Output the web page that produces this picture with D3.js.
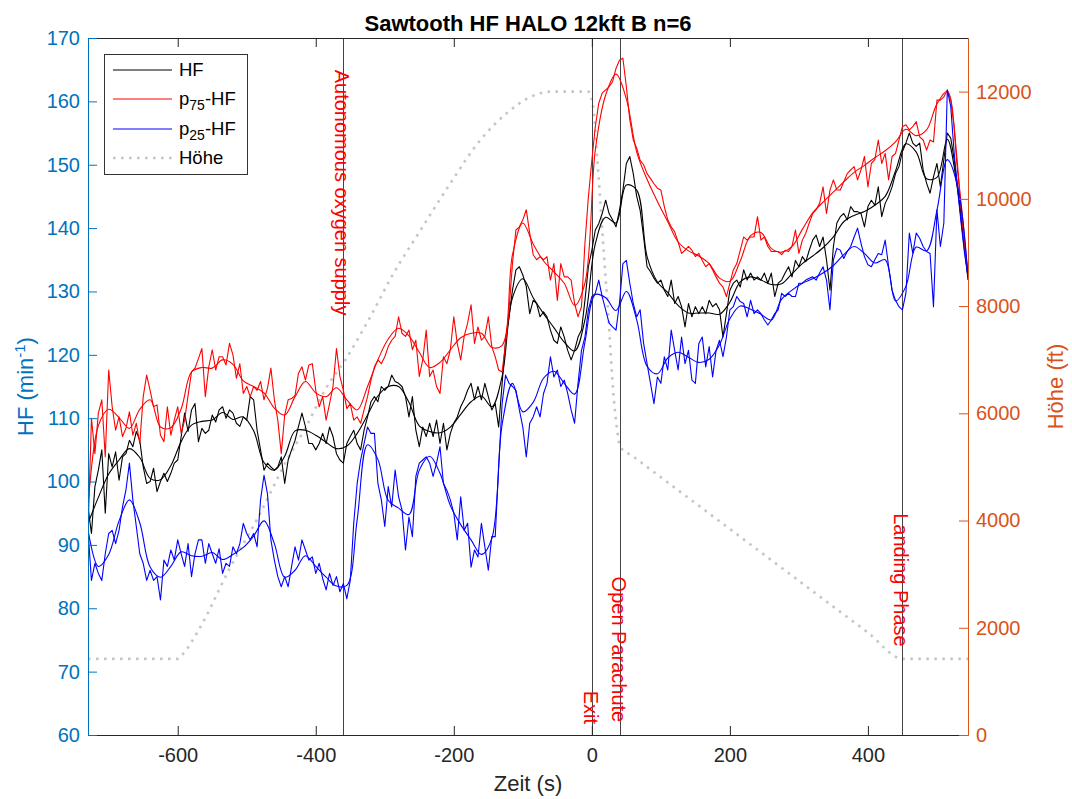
<!DOCTYPE html>
<html>
<head>
<meta charset="utf-8">
<script src="https://cdn.jsdelivr.net/npm/d3@7"></script>
<style>
  html, body { margin: 0; padding: 0; background: #fff; }
  svg { display: block; font-family: "Liberation Sans", Arial, Helvetica, sans-serif; }
</style>
</head>
<body>
<svg id="chart" width="1072" height="799"></svg>
<script>
// ---- Zeitbasis (s), Rohwerte alle 5 s, geglättete Kurven alle 15 s ----
const zeitRoh = d3.range(-730, 546, 5);
const zeitGlatt = d3.range(-730, 546, 15);

// Herzfrequenz-Median (HF), Rohwerte
const hfRoh = [
  96, 91.8, 99.2, 101.8, 105, 95, 104.4, 102.3, 104.7, 100.2, 103.9, 104.4, 106.5, 105.5, 107.9, 106.5,
  102.3, 99.7, 100, 102.1, 98.4, 100, 101.3, 100, 101.3, 102.9, 103.4, 107.1, 110.8, 107.9, 111.3, 112.3,
  106.3, 108.4, 107.6, 108.1, 110.5, 109.4, 111.3, 111.8, 110, 111.3, 110.8, 109.2, 108.7, 110.2, 109.7,
  113.4, 112.9, 108.1, 105, 101.8, 102.9, 102.3, 101.8, 102.3, 103.9, 99.7, 103.4, 105, 106.5, 108.7,
  110.8, 108.7, 106,
  106, 105, 106, 107.6, 106, 108.6, 107.1, 104.4, 103.4, 102.9, 106, 107.1, 108.1, 106, 105, 108.1,
  110.2, 112.6, 113.4, 112.6, 115, 114.4, 115, 116.8, 115.8, 115.5, 115, 113.4, 110.2, 113.4, 108.1,
  105.5, 108.6, 107.1, 109.2, 107.1, 109.7, 106, 109.2, 105, 107.6, 109.2, 110.2, 111.8, 112.9, 114.4,
  115.5, 112.9, 115, 112.9, 115.5, 113.4, 111.3, 112.3, 108.6, 115.5, 122.3, 126, 130.2, 133.4, 133.9,
  132.6, 130.8, 126.5,
  128.6, 128.1, 126, 126.8, 126, 123.9, 122.3, 121.8, 124.4, 122.8, 120.7, 119.2, 120.7, 122.8, 123.9,
  128.6, 133.9, 136.5, 139.7, 140.7, 142.3, 144.4, 142.3, 141.3, 140.2, 142.8, 146, 150.2, 151.3, 148.6,
  145, 142.8, 138.6, 133.9, 133.1, 132.1, 131.3, 131.8, 130.2, 129.2, 131.8, 128.1, 129.2, 127.6, 124.4,
  128.1, 126, 127.6, 126.5, 127.6, 126.5, 128.6, 127.6, 128.1, 127.1, 122.8, 126.5, 130.2, 131.3, 131.8,
  130.7, 133.4, 131.8,
  132.9, 131.8, 132.3, 131.8, 132.9, 131.3, 132.9, 129.2, 131.3, 131.8, 132.9, 133.9, 132.3, 134.9,
  133.9, 135.5, 134.7, 136.5, 138.1, 138.9, 137.1, 138.6, 135, 130.2, 137.1, 140.8, 141.8, 142.3, 141.3,
  143.4, 142.6, 142.6, 142.3, 140.2, 143.4, 144.4, 143.6, 146.5, 141.8, 143.9, 145, 146.5, 148.6, 149.7,
  152.1, 153.4, 155, 153.4, 152.9, 153.4, 149.2, 147.1, 145.5, 148.1, 150.2, 146.5, 150.8, 155, 154.2,
  150.8, 146.5, 141.3, 136.5, 132.3
];

// 75. Perzentil, Rohwerte
const p75Roh = [
  91.8, 110, 104.4, 110.8, 112.9, 103.9, 117.6, 111.8, 108.1, 110.2, 107.1, 108.4, 111, 107.3, 109.2, 106,
  113.4, 116.8, 114.4, 111.8, 112.1, 107.3, 106.3, 111.8, 107.3, 109.7, 111.8, 107.6, 109.7, 113.6, 117.3,
  117.9, 119.4, 121, 113.4, 118.1, 120.8, 117.6, 119.7, 119.7, 118.4, 121.8, 120, 116.3, 118.6, 113.9, 115,
  113.4, 115, 114.4, 115.8, 112.9, 114.7, 117.9, 112.9, 109.7, 104.4, 110.5, 112.9, 113.1, 113.6, 117.1,
  118.1, 116, 118.4,
  118.6, 114.4, 111.8, 113.4, 109.7, 112.3, 115, 121, 116.6, 114.4, 111.5, 112.3, 109.7, 110.2, 109.2,
  111.3, 113.4, 116, 118.1, 119.2, 118.6, 119.7, 121.3, 122.3, 122.9, 126, 123.4, 122.9, 123.9, 120.8,
  122.3, 116.6, 119.2, 123.9, 116.6, 117.6, 115, 113.9, 119.7, 118.6, 120.8, 126, 121.8, 119.2, 122.9, 125,
  127.9, 121.8, 124.4, 122.3, 122.9, 126, 121.3, 119.7, 117.6, 117.3, 121.8, 127.1, 134.4, 139.7, 140.2,
  141.3, 142.9, 139.2,
  135.8, 135, 135.5, 135, 135.5, 131.8, 134.4, 128.6, 134.4, 132.3, 132.3, 131.8, 128.1, 126, 127.6,
  137.6, 144.9, 150.7, 156, 159.7, 161.3, 161.8, 162.3, 163.1, 165.2, 166.5, 166.8, 162.3, 157.1, 153.9,
  152.6, 150.7, 150, 148.6, 147.8, 147, 146.3, 146, 143.4, 141.3, 140.2, 139.4, 137.8, 136, 136.5, 137.1,
  136.5, 135.5, 136, 134.9, 133.9, 134.4, 133.4, 132.3, 131.3, 130.7, 129.2, 131.3, 133.4, 134.4, 136.5,
  138.6, 138.1,
  138.6, 138.6, 141.8, 138.1, 138.6, 137.1, 136.3, 136.3, 136.3, 135.8, 136.5, 136.3, 137.1, 139.7, 136,
  138.1, 139.2, 140.8, 142.3, 142.9, 143.9, 146.5, 142.3, 146, 147.6, 146, 146, 147.3, 148.6, 149.2, 149.7,
  147.6, 149.2, 151.3, 146.5, 150.2, 150.8, 153.9, 150.2, 151.8, 147.6, 151.3, 151.8, 153.9, 156, 156.3,
  155.5, 156, 156.8, 154.4, 153.9, 152.3, 153.9, 153.6, 160.2, 160.2, 160.7, 161.8, 160.2, 156, 149.7,
  142.9, 137.1, 132.9
];

// 25. Perzentil, Rohwerte
const p25Roh = [
  92.3, 84.4, 87.1, 85.5, 84.4, 88.6, 91.8, 92.3, 90.2, 92.3, 96, 98.7, 102.9, 97.1, 92.9, 88.6, 87.1,
  84.4, 86, 84.4, 85, 81.3, 87.6, 86.6, 89.2, 87.6, 90.8, 88.6, 86.6, 90.2, 85, 88.6, 90.8, 90.8, 87.1,
  90.2, 88.6, 87.1, 89.4, 85.5, 87.1, 86.6, 89.7, 88.6, 90.2, 93.4, 91.8, 90.8, 91.8, 89.7, 97.1, 101,
  98.1, 90.8, 87.6, 85, 83.4, 85, 83.4, 86.6, 89.7, 87.6, 90.8, 89.2, 87.6,
  88.1, 85.5, 87.1, 84.7, 82.9, 85.5, 83.6, 85, 82.6, 83.9, 81.5, 84.4, 93.4, 99.7, 103.4, 106, 108.6,
  107.6, 107.6, 99.7, 97.1, 92.9, 99.2, 96, 101.8, 97.6, 95.5, 89.2, 94.4, 91.3, 100.8, 102.9, 103.4,
  103.9, 102.9, 100.8, 102.9, 105.5, 99.7, 98.6, 97.1, 95, 90.8, 97.6, 92.3, 93.4, 86.5, 89.2, 88.1, 93.4,
  89.7, 86, 91.3, 91.3, 102.3, 112.3, 116.8, 115.5, 115, 114.4, 111.3, 108.6, 103.9, 109.2,
  110.2, 111.8, 110.2, 113.9, 115.5, 119.7, 116.5, 117.6, 115, 116, 113.9, 111.3, 109.2, 115.5, 120.7,
  122.8, 127.1, 129.2, 129.7, 131.8, 129.2, 127.1, 125, 124.4, 123.9, 128.1, 134.4, 134.9, 131.3, 128.1,
  126, 127.1, 121.8, 118.6, 115.5, 112.3, 116.5, 115.5, 119.7, 117.6, 123.9, 120.7, 117.6, 122.8, 118.6,
  120.7, 116, 115.5, 121.8, 122.8, 118.1, 121.3, 116.5, 120.7, 122.3, 119.7, 122.8, 127.1, 127.6, 129.2,
  128.4, 128.1, 126,
  128.6, 126.5, 127.1, 126.5, 125.5, 124.7, 125.5, 126.5, 127.1, 129.7, 129.2, 129.7, 129.2, 129.2, 131.3,
  131.3, 131.8, 132.1, 132.3, 131.8, 132.9, 133.9, 131.8, 127.1, 135, 136.8, 136.5, 135.2, 136.3, 137.1,
  138.6, 140, 137.6, 135.5, 134.2, 133.9, 135, 136, 135.8, 138.1, 133.9, 130.2, 128.6, 127.6, 127.1, 129.7,
  139.2, 136, 139.2, 138.4, 137.1, 136.3, 136, 127.6, 142.9, 137.1, 140.8, 161.8, 159.2, 151.8, 146,
  140.8, 136, 132.3
];

// Geglättete Verläufe
const hfGlatt = [
  93.4, 97.5, 101.2, 103.4, 105.2, 103.8, 100.5, 100.3, 102.5, 106.3, 108.9, 109.5, 109.7, 110.9, 109.8,
  110.2, 108, 103, 101.8, 104, 108, 108.1, 107.3, 106.2, 105.2, 105.6, 107.6, 110.5, 113.5, 115, 115,
  112.5, 108.8, 107.9, 107.7, 108.6, 110.6, 112.6, 113.5, 111.8, 116.6, 129, 132, 129, 126.5, 124.3, 122,
  120.6, 125.5, 137.5, 141.7, 140.8, 146.8, 146, 135.5, 131.5, 129.8, 127.8, 126.6, 126.6, 126.6, 126.4,
  128.3, 131.5, 132.3, 131.8, 131.1, 131.2, 132.8, 134.4, 135.6, 136.9, 138.6, 141, 142, 142.6, 143.6,
  145, 149, 153.3, 152, 147.8, 148, 154, 146, 131.8
];
const p75Glatt = [
  96, 108.8, 111.4, 110.1, 108.4, 111.4, 112.9, 108.6, 108.5, 111.5, 117.3, 118, 117.9, 119.2, 118.5,
  115.9, 115, 114, 111.6, 110.5, 113.4, 115.8, 114, 113.4, 114.8, 112.9, 111.3, 115, 119.2, 122.5, 124.2,
  123, 120.4, 118, 118.8, 120.8, 122.7, 123.4, 123.4, 121.2, 121.5, 135.8, 140.8, 137.5, 134.8, 133.1,
  131.3, 127.8, 131.3, 152.3, 161, 164.3, 160.4, 152, 147.7, 144.2, 141, 137.8, 136.4, 135.6, 134.4,
  132.1, 131.6, 134.8, 138.8, 139.3, 136.8, 136.2, 137.1, 139.8, 142.4, 144.1, 145.7, 147.3, 148.8,
  149.9, 151.1, 152.2, 153.6, 155.6, 154.6, 155.5, 159.6, 161.6, 149, 132.5
];
const p25Glatt = [
  92.4, 86.6, 88.5, 93.8, 97.1, 93.5, 86.5, 84.9, 86.6, 88.9, 88.3, 88.2, 88.8, 87.7, 88.5, 89.6, 91.4,
  93.8, 90.2, 84.9, 86, 88.3, 86.6, 84.9, 83.5, 83.6, 94, 105.8, 103.5, 97, 95.8, 94.8, 101.8, 104, 101.3,
  96.2, 93.2, 90.8, 88.5, 91, 109, 115.5, 111, 112.5, 116.3, 117.4, 115.5, 113.8, 122, 129.5, 129, 127,
  130, 125.5, 118.2, 117, 119.5, 120.4, 119.6, 118.8, 119.3, 121.6, 125.7, 127.7, 127.2, 126.4, 125.5,
  128.8, 130.2, 131.3, 132, 132.9, 134.1, 135.8, 137.1, 136, 134.5, 135, 128.5, 130.8, 137, 136.4, 142.8,
  150.8, 146.6, 132.3
];

// Höhenprofil (ft)
const hoeheZeit = [-730, -600, -590, -570, -525, -481, -443, -414, -386, -357, -318, -290, -248, -205,
  -162, -123, -89, -60, -5, 3, 7, 12, 17, 24, 31, 36, 41, 60, 109, 180, 254, 330, 400, 451, 460, 545];
const hoehe = [1420, 1420, 1550, 1950, 3100, 4120, 5100, 5750, 6450, 7000, 7870, 8550, 9420, 10290,
  11090, 11600, 11900, 12000, 12000, 11600, 10900, 10000, 9050, 7800, 6400, 5750, 5380, 5195, 4720,
  4035, 3320, 2585, 1910, 1420, 1420, 1420];

// Ereignisse
const ereignisZeit = [-360, 0, 41, 450];
const ereignisText = ["Autonomous oxygen supply", "Exit", "Open Parachute", "Landing Phase"];
const ereignisTextStart = [165, 67, 85, 95];   // Textanfang in HF-Einheiten

// Achsenbeschriftung
const xTicks = [-600, -400, -200, 0, 200, 400];
const hfTicks = d3.range(60, 171, 10);
const hoeheTicks = [0, 2000, 4000, 6000, 8000, 10000, 12000];

// ---- Layout ----
const plot = { left: 88, right: 968, top: 38, bottom: 735 };
const farbeLinks = "#0072BD", farbeRechts = "#D95319", farbeAchse = "#262626";
const farbeHoehe = "#c6c6c6";

const svg = d3.select("#chart");
const x = d3.scaleLinear().domain([-730, 545]).range([plot.left, plot.right]);
const yL = d3.scaleLinear().domain([60, 170]).range([plot.bottom, plot.top]);
const yR = d3.scaleLinear().domain([0, 13000]).range([plot.bottom, plot.top]);

svg.append("rect").attr("width", 1072).attr("height", 799).attr("fill", "#fff");

svg.append("clipPath").attr("id", "clip")
  .append("rect").attr("x", plot.left).attr("y", plot.top)
  .attr("width", plot.right - plot.left).attr("height", plot.bottom - plot.top);

const daten = svg.append("g").attr("clip-path", "url(#clip)");

// Höhe (rechte Achse)
const hoeheLinie = d3.line().x((d, i) => x(hoeheZeit[i])).y(d => yR(d)).curve(d3.curveMonotoneX);
daten.append("path").datum(hoehe).attr("d", hoeheLinie)
  .attr("fill", "none").attr("stroke", farbeHoehe).attr("stroke-width", 2.6)
  .attr("stroke-dasharray", "2.6 5.4");

// Ereignislinien
daten.selectAll("line.ereignis").data(ereignisZeit).join("line")
  .attr("class", "ereignis")
  .attr("x1", d => Math.round(x(d)) + 0.5).attr("x2", d => Math.round(x(d)) + 0.5)
  .attr("y1", plot.top).attr("y2", plot.bottom)
  .attr("stroke", "#444").attr("stroke-width", 1);

// HF-Kurven (linke Achse)
const rohLinie = d3.line().x((d, i) => x(zeitRoh[i])).y(d => yL(d));
const glattLinie = d3.line().x((d, i) => x(zeitGlatt[i])).y(d => yL(d)).curve(d3.curveCatmullRom.alpha(0.5));

const serien = [
  { roh: hfRoh, glatt: hfGlatt, farbe: "#000000" },
  { roh: p75Roh, glatt: p75Glatt, farbe: "#ff0000" },
  { roh: p25Roh, glatt: p25Glatt, farbe: "#0000ff" }
];
serien.forEach(s => {
  daten.append("path").datum(s.roh).attr("d", rohLinie)
    .attr("fill", "none").attr("stroke", s.farbe).attr("stroke-width", 1.1).attr("stroke-linejoin", "round");
  daten.append("path").datum(s.glatt).attr("d", glattLinie)
    .attr("fill", "none").attr("stroke", s.farbe).attr("stroke-width", 1.1);
});

// Ereignistexte
svg.selectAll("text.ereignis").data(ereignisZeit).join("text")
  .attr("class", "ereignis")
  .attr("transform", (d, i) => `translate(${x(d) - 1},${yL(ereignisTextStart[i])}) rotate(90)`)
  .attr("dominant-baseline", "central")
  .attr("fill", "#ff0000").style("font-size", "20px")
  .text((d, i) => ereignisText[i]);

// ---- Achsen ----
function stil(g, farbe, size) {
  g.attr("font-family", null).attr("font-size", null);
  g.selectAll("path, line").attr("stroke", farbe).attr("stroke-width", 1);
  g.selectAll("text").attr("fill", farbe).style("font-size", size + "px");
}
const fmt = d => String(d);

svg.append("g").attr("transform", `translate(0,${plot.bottom})`)
  .call(d3.axisBottom(x).tickValues(xTicks).tickFormat(fmt).tickSizeInner(-9).tickSizeOuter(0).tickPadding(13))
  .call(g => stil(g, farbeAchse, 20));
svg.append("g").attr("transform", `translate(0,${plot.top})`)
  .call(d3.axisTop(x).tickValues(xTicks).tickFormat("").tickSizeInner(-9).tickSizeOuter(0))
  .call(g => stil(g, farbeAchse, 20));
svg.append("g").attr("transform", `translate(${plot.left},0)`)
  .call(d3.axisLeft(yL).tickValues(hfTicks).tickFormat(fmt).tickSizeInner(-9).tickSizeOuter(0).tickPadding(8))
  .call(g => stil(g, farbeLinks, 20));
svg.append("g").attr("transform", `translate(${plot.right},0)`)
  .call(d3.axisRight(yR).tickValues(hoeheTicks).tickFormat(fmt).tickSizeInner(-9).tickSizeOuter(0).tickPadding(8))
  .call(g => stil(g, farbeRechts, 20));

// Titel und Achsentitel
svg.append("text").attr("x", (plot.left + plot.right) / 2).attr("y", 31)
  .attr("text-anchor", "middle").attr("font-weight", "bold").style("font-size", "22px")
  .attr("fill", "#000").text("Sawtooth HF HALO 12kft B n=6");

svg.append("text").attr("x", (plot.left + plot.right) / 2).attr("y", 791)
  .attr("text-anchor", "middle").style("font-size", "22px").attr("fill", farbeAchse).text("Zeit (s)");

const yTitelL = svg.append("text").attr("transform", `translate(33,${(plot.top + plot.bottom) / 2}) rotate(-90)`)
  .attr("text-anchor", "middle").style("font-size", "22px").attr("fill", farbeLinks);
yTitelL.append("tspan").text("HF (min");
yTitelL.append("tspan").attr("dy", -8).style("font-size", "15px").text("-1");
yTitelL.append("tspan").attr("dy", 8).text(")");

svg.append("text").attr("transform", `translate(1063,${(plot.top + plot.bottom) / 2}) rotate(-90)`)
  .attr("text-anchor", "middle").style("font-size", "22px").attr("fill", farbeRechts).text("Höhe (ft)");

// ---- Legende ----
const legende = svg.append("g");
legende.append("rect").attr("x", 104.5).attr("y", 54.5).attr("width", 143).attr("height", 120)
  .attr("fill", "#fff").attr("stroke", "#333").attr("stroke-width", 1);
const eintraege = [
  { name: "HF", sub: null, rest: null, farbe: "#000", y: 70, dash: null },
  { name: "p", sub: "75", rest: "-HF", farbe: "#ff0000", y: 99, dash: null },
  { name: "p", sub: "25", rest: "-HF", farbe: "#0000ff", y: 129, dash: null },
  { name: "Höhe", sub: null, rest: null, farbe: farbeHoehe, y: 158, dash: "2.6 5.4" }
];
eintraege.forEach(e => {
  const l = legende.append("line").attr("x1", 113).attr("x2", 172).attr("y1", e.y).attr("y2", e.y)
    .attr("stroke", e.farbe).attr("stroke-width", e.dash ? 2.6 : 1.1);
  if (e.dash) l.attr("stroke-dasharray", e.dash);
  const t = legende.append("text").attr("x", 179).attr("y", e.y + 6)
    .style("font-size", "18.5px").attr("fill", "#000");
  t.append("tspan").text(e.name);
  if (e.sub) {
    t.append("tspan").attr("dy", 5).style("font-size", "14px").text(e.sub);
    t.append("tspan").attr("dy", -5).text(e.rest);
  }
});
</script>
</body>
</html>
